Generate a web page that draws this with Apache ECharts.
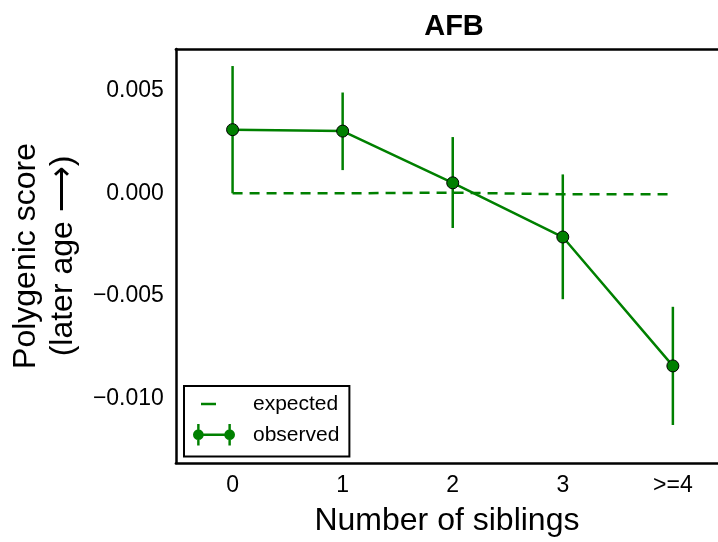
<!DOCTYPE html>
<html>
<head>
<meta charset="utf-8">
<script src="https://cdn.jsdelivr.net/npm/echarts@6/dist/echarts.min.js"></script>
<style>
html,body{margin:0;padding:0;background:#fff;}
#chart{width:718px;height:542px;}
</style>
</head>
<body>
<div id="chart"></div>
<script>
// ---- data ----
var categories = ['0', '1', '2', '3', '>=4'];
var observed = [0.00310, 0.00303, 0.00051, -0.00213, -0.00841];
var observedLow = [0.00000, 0.00113, -0.00169, -0.00516, -0.01129];
var observedHigh = [0.00620, 0.00491, 0.00274, 0.00092, -0.00553];
var expected = [0.00000, 0.00000, 0.00003, -0.00005, -0.00005];
var yTicks = [-0.010, -0.005, 0.000, 0.005];
var yRange = [-0.01314, 0.00703];
var xRange = [-0.515, 4.41];

var FONT = "'Liberation Sans', Arial, Helvetica, sans-serif";
var GREEN = '#008000';

var xIdx = categories.map(function (c, i) { return i; });
var errData = xIdx.map(function (i) { return [i, observedLow[i], observedHigh[i]]; });
var obsData = xIdx.map(function (i) { return [i, observed[i]]; });
var expData = xIdx.map(function (i) { return [i, expected[i]]; });
var frameLine = {show: true, onZero: false, lineStyle: {color: '#000', width: 2.5}};

var chart = echarts.init(document.getElementById('chart'), null, {renderer: 'canvas'});
chart.setOption({
  animation: false,
  backgroundColor: '#fff',
  title: {
    text: 'AFB',
    left: 449,
    textAlign: 'center',
    top: 7,
    textStyle: {fontFamily: FONT, fontWeight: 'bold', fontSize: 29, color: '#000'}
  },
  grid: {left: 174, top: 49, right: 0, bottom: 77},
  legend: {
    orient: 'vertical',
    left: 184, top: 386,
    padding: [7, 10, 11, 9],
    itemGap: 9,
    itemWidth: 42, itemHeight: 22,
    borderColor: '#000', borderWidth: 2, borderRadius: 0,
    backgroundColor: '#fff',
    selectedMode: false,
    textStyle: {fontFamily: FONT, fontSize: 21, color: '#000', padding: [0, 0, 0, 13]},
    data: [
      {name: 'expected', icon: 'path://M0,0M42,22M8,9.75H23V12.25H8Z', itemStyle: {color: GREEN, borderWidth: 0}},
      {name: 'observed', icon: 'path://M0,0M42,22M5,9.75H37V12.25H5ZM3.75,0H6.25V22H3.75ZM35.75,0H38.25V22H35.75ZM-0.5,11A5.5,5.5 0 1,1 10.5,11A5.5,5.5 0 1,1 -0.5,11ZM31.5,11A5.5,5.5 0 1,1 42.5,11A5.5,5.5 0 1,1 31.5,11Z', itemStyle: {color: GREEN, borderWidth: 0}}
    ]
  },
  xAxis: [
    {
      type: 'value',
      position: 'bottom',
      min: xRange[0], max: xRange[1],
      axisLine: frameLine,
      axisTick: {show: false},
      splitLine: {show: false},
      axisLabel: {
        fontFamily: FONT, fontSize: 23, color: '#000', margin: 11,
        customValues: xIdx,
        formatter: function (v) { return categories[Math.round(v)]; }
      },
      name: 'Number of siblings',
      nameLocation: 'middle',
      nameGap: 42,
      nameTextStyle: {fontFamily: FONT, fontSize: 32, color: '#000'}
    },
    {
      type: 'value',
      position: 'top',
      min: xRange[0], max: xRange[1],
      axisLine: frameLine,
      axisTick: {show: false},
      splitLine: {show: false},
      axisLabel: {show: false}
    }
  ],
  yAxis: {
    type: 'value',
    min: yRange[0], max: yRange[1],
    axisLine: frameLine,
    axisTick: {show: false},
    splitLine: {show: false},
    axisLabel: {
      fontFamily: FONT, fontSize: 23, color: '#000', margin: 12,
      customValues: yTicks,
      formatter: function (v) { return v.toFixed(3).replace('-', '\u2212'); }
    },
    name: 'Polygenic score\n(later age \u27F6)',
    nameLocation: 'middle',
    nameGap: 93,
    nameTextStyle: {fontFamily: FONT, fontSize: 32, color: '#000', lineHeight: 37}
  },
  series: [
    {
      name: 'expected',
      type: 'line',
      data: expData,
      color: GREEN,
      symbol: 'none',
      lineStyle: {color: GREEN, width: 2.5, type: [10, 7]},
      z: 2
    },
    {
      name: 'errorbars',
      type: 'custom',
      data: errData,
      encode: {x: 0, y: [1, 2]},
      renderItem: function (params, api) {
        var p1 = api.coord([api.value(0), api.value(1)]);
        var p2 = api.coord([api.value(0), api.value(2)]);
        return {
          type: 'line',
          shape: {x1: p1[0], y1: p1[1], x2: p2[0], y2: p2[1]},
          style: {stroke: GREEN, lineWidth: 2.5}
        };
      },
      z: 3
    },
    {
      name: 'observed',
      type: 'line',
      data: obsData,
      color: GREEN,
      symbol: 'circle',
      symbolSize: 12,
      lineStyle: {color: GREEN, width: 2.5},
      itemStyle: {color: GREEN, borderColor: '#000', borderWidth: 1},
      z: 4
    }
  ]
});
</script>
</body>
</html>
